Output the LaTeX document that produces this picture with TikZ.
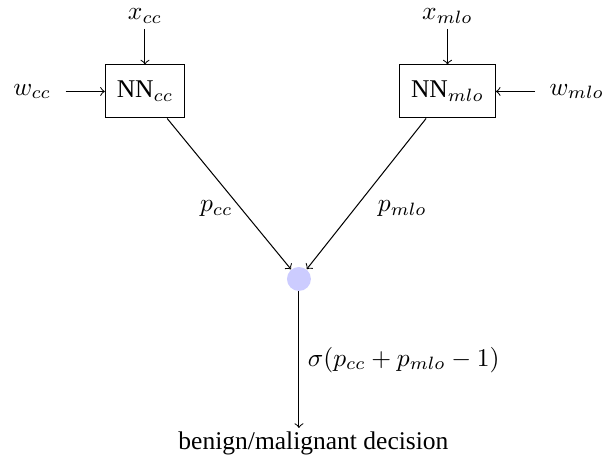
\documentclass[tikz,border=0pt]{standalone}
\usepackage{fontspec}
\setmainfont{Liberation Serif}
\usetikzlibrary{positioning}
\tikzset{
  nnbox/.style={draw, minimum height=7.3mm, inner xsep=4.5pt},
  sumpt/.style={circle, fill=blue!20, minimum size=3.3mm, inner sep=0pt},
  arr/.style={->},
}
\begin{document}
\begin{tikzpicture}
\useasboundingbox (0,0) rectangle (8.444,-6.529);
\node[nnbox] (cc) at (1.997,-1.260) {NN$_{cc}$};
\node[nnbox] (mlo) at (6.164,-1.260) {NN$_{mlo}$};
\node[above=4.9mm of cc, inner ysep=2pt] (xcc) {$x_{cc}$};
\node[left=5.4mm of cc, inner xsep=5.5pt] (wcc) {$w_{cc}$};
\node[above=4.9mm of mlo, inner ysep=2pt] (xmlo) {$x_{mlo}$};
\node[right=5.4mm of mlo, inner xsep=5.5pt] (wmlo) {$w_{mlo}$};
\node[sumpt] (sum) at (4.118,-3.843) {};
\coordinate (out) at (4.118,-5.895);
\node (dec) at (4.318,-6.11) {benign/malignant decision};
\foreach \a/\b in {xcc/cc,wcc/cc,xmlo/mlo,wmlo/mlo} \draw[arr] (\a) -- (\b);
\draw[arr] (cc) -- node[pos=0.6, left] {$p_{cc}$} (sum);
\draw[arr] (mlo) -- node[pos=0.6, right=2mm] {$p_{mlo}$} (sum);
\draw[arr] (sum) -- node[right] {$\sigma(p_{cc}+p_{mlo}-1)$} (out);
\end{tikzpicture}
\end{document}
